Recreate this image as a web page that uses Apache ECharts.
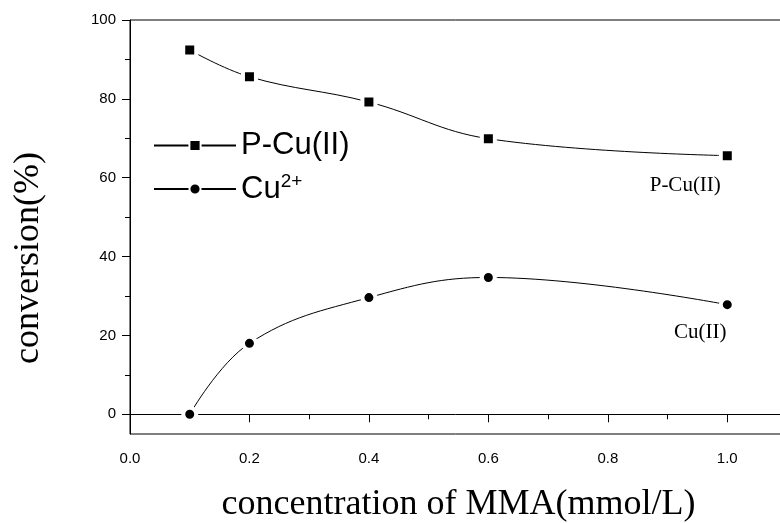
<!DOCTYPE html>
<html>
<head>
<meta charset="utf-8">
<script src="https://cdn.jsdelivr.net/npm/echarts@6/dist/echarts.min.js"></script>
<style>
  html, body { margin: 0; padding: 0; background: #fff; }
  #chart { width: 780px; height: 523px; }
</style>
</head>
<body>
<div id="chart"></div>
<script>
// MMA concentration (mmol/L)
const concentration = [0.1, 0.2, 0.4, 0.6, 1.0];
// conversion (%) for each catalyst
const pCuConversion = [92.4, 85.6, 79.2, 69.9, 65.6];
const cuConversion = [0.0, 18.0, 29.6, 34.7, 27.8];
// axis tick values
const yMajorTicks = [0, 20, 40, 60, 80, 100];
const yMinorTicks = [10, 30, 50, 70, 90];

const SERIF = '"Liberation Serif", "Times New Roman", serif';
const SANS = '"Liberation Sans", Arial, sans-serif';

const pairs = (xs, ys) => xs.map((x, i) => [x, ys[i]]);

// put a text tag next to the last point of a curve
function lastLabel(data, text, offset) {
  return data.map((d, i) => {
    if (i !== data.length - 1) return d;
    return {
      value: d,
      label: {
        show: true, position: 'inside', offset: offset,
        formatter: text, color: '#000', fontFamily: SERIF, fontSize: 21
      }
    };
  });
}

const chart = echarts.init(document.getElementById('chart'));
chart.setOption({
  animation: false,
  backgroundColor: '#fff',
  grid: {
    left: 130, right: -7, top: 20, bottom: 89,
    outerBoundsMode: 'none', containLabel: false,
    show: true, borderColor: '#000', borderWidth: 1
  },
  legend: {
    left: 148, top: 125, orient: 'vertical',
    itemWidth: 82, itemHeight: 14, itemGap: 11,
    data: ['P-Cu(II)', 'Cu2+'],
    formatter: n => n === 'Cu2+' ? '{b|Cu}{s|2+}' : '{b|P-Cu(II)}',
    textStyle: {
      color: '#000',
      rich: {
        b: { fontFamily: SANS, fontSize: 31, color: '#000', lineHeight: 34 },
        s: { fontFamily: SANS, fontSize: 19, color: '#000', verticalAlign: 'top', lineHeight: 34, padding: [0, 0, 14, 0] }
      }
    }
  },
  graphic: [{
    type: 'text', x: 29, y: 258, rotation: Math.PI / 2,
    style: {
      text: 'conversion(%)', fontFamily: SERIF, fontSize: 36, fill: '#000',
      align: 'center', verticalAlign: 'middle'
    }
  }],
  xAxis: {
    type: 'value', min: 0, max: 1.1, interval: 0.2,
    name: 'concentration of MMA(mmol/L)', nameLocation: 'middle', nameGap: 53,
    nameTextStyle: { fontFamily: SERIF, fontSize: 36, color: '#000' },
    axisLine: { lineStyle: { color: '#000', width: 1 } },
    axisTick: { length: 8, lineStyle: { color: '#000' } },
    minorTick: { show: true, splitNumber: 2, length: 5, lineStyle: { color: '#000' } },
    axisLabel: { fontFamily: SANS, fontSize: 15, color: '#000', margin: 17, formatter: v => v.toFixed(1), showMaxLabel: false },
    splitLine: { show: false }
  },
  yAxis: [{
    type: 'value', min: -5, max: 100,
    axisLine: { show: true, lineStyle: { color: '#000', width: 1 } },
    axisTick: { show: true, length: 8, customValues: yMajorTicks, lineStyle: { color: '#000' } },
    axisLabel: { fontFamily: SANS, fontSize: 15, color: '#000', margin: 14, customValues: yMajorTicks },
    splitLine: { show: false }
  }, {
    type: 'value', min: -5, max: 100, position: 'left',
    axisLine: { show: false },
    axisTick: { show: true, length: 5, customValues: yMinorTicks, lineStyle: { color: '#000' } },
    axisLabel: { show: false },
    splitLine: { show: false }
  }],
  series: [{
    name: 'P-Cu(II)', type: 'line', smooth: 0.4,
    data: lastLabel(pairs(concentration, pCuConversion), 'P-Cu(II)', [-42, 30]),
    symbol: 'rect', symbolSize: 13,
    lineStyle: { color: '#000', width: 1 },
    itemStyle: { color: '#000', borderColor: '#fff', borderWidth: 4 },
    z: 3
  }, {
    name: 'Cu2+', type: 'line', smooth: 0.4,
    data: lastLabel(pairs(concentration, cuConversion), 'Cu(II)', [-27, 28]),
    symbol: 'circle', symbolSize: 13,
    lineStyle: { color: '#000', width: 1 },
    itemStyle: { color: '#000', borderColor: '#fff', borderWidth: 4 },
    z: 3
  }]
});
</script>
</body>
</html>
